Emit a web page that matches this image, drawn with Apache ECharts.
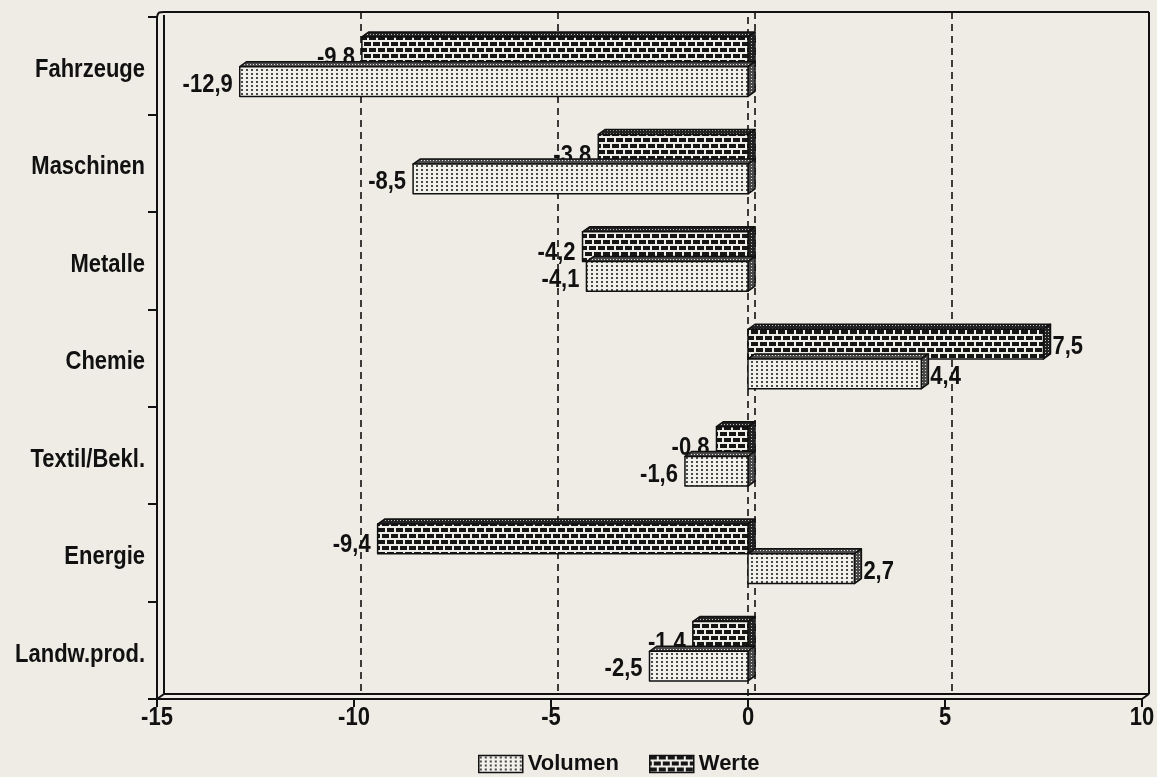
<!DOCTYPE html>
<html>
<head>
<meta charset="utf-8">
<script src="https://cdn.jsdelivr.net/npm/echarts@6/dist/echarts.min.js"></script>
<style>
  html, body { margin: 0; padding: 0; background: #efece5; }
  #chart { width: 1157px; height: 777px; }
</style>
</head>
<body>
<div id="chart"></div>
<script>
// Veränderung gegenüber Vorjahr in %, je Warengruppe
const categories = ['Fahrzeuge', 'Maschinen', 'Metalle', 'Chemie', 'Textil/Bekl.', 'Energie', 'Landw.prod.'];
const werte   = [-9.8, -3.8, -4.2, 7.5, -0.8, -9.4, -1.4];
const volumen = [-12.9, -8.5, -4.1, 4.4, -1.6, 2.7, -2.5];
const xTicks = [-15, -10, -5, 0, 5, 10];
const gridValues = [-10, -5, 0, 5];

const FONT = "'Liberation Sans', Arial, Helvetica, sans-serif";
const FS = 22;
const STRETCH = 1.2;    // tall lettering
const DX = 7, DY = 5;   // depth of the 3D box

function makePattern(w, h, draw) {
  const c = document.createElement('canvas');
  c.width = w; c.height = h;
  draw(c.getContext('2d'));
  return { image: c, repeat: 'repeat' };
}
// light dotted fill
const dotFront = makePattern(5, 4, g => {
  g.fillStyle = '#f3f1ec'; g.fillRect(0, 0, 5, 4);
  g.fillStyle = '#4a4a4a'; g.fillRect(1, 1, 2, 2);
});
// dark bricks with light mortar
const brickFront = makePattern(18, 12, g => {
  g.fillStyle = '#efede7'; g.fillRect(0, 0, 18, 12);
  g.fillStyle = '#161616';
  g.fillRect(0, 0, 7, 4); g.fillRect(9, 0, 7, 4);
  g.fillRect(0, 6, 2, 4); g.fillRect(4, 6, 7, 4); g.fillRect(13, 6, 5, 4);
});
// dense dotted shading for top and side faces
const shadeDark = makePattern(3, 3, g => {
  g.fillStyle = '#222'; g.fillRect(0, 0, 3, 3);
  g.fillStyle = '#c4c1ba'; g.fillRect(1, 1, 1, 1);
});
const shadeMid = makePattern(3, 3, g => {
  g.fillStyle = '#4a4a4a'; g.fillRect(0, 0, 3, 3);
  g.fillStyle = '#e6e3dc'; g.fillRect(1, 1, 1, 1);
});

const fmt = v => v.toFixed(1).replace('.', ',');

// text element drawn a little taller than wide
function tallText(text, x, y, align) {
  return {
    type: 'text', x, y, scaleY: STRETCH, originX: 0, originY: 0,
    style: { text, x: 0, y: 0, align, verticalAlign: 'middle', fill: '#111',
             font: 'bold ' + FS + 'px ' + FONT }
  };
}

function barRenderer(upper, frontFill, shadeFill) {
  return function (params, api) {
    const v = api.value(0), ci = api.value(1);
    const base = api.coord([0, ci]);
    const end = api.coord([v, ci]);
    const band = api.size([0, 1])[1];
    const h = band * 0.305;
    const cy = base[1] + band * 0.01;
    const top = upper ? cy - h : cy;
    const bot = top + h;
    const x1 = Math.min(base[0], end[0]);
    const x2 = Math.max(base[0], end[0]);
    const stroke = { stroke: '#111', lineWidth: 1.5, lineJoin: 'round' };
    const lx = v < 0 ? x1 - 7 : x2 + DX + 2;
    const labelDy = (upper && v < 0) ? 6 : 3;
    return {
      type: 'group',
      children: [
        { type: 'polygon', shape: { points: [[x1, top], [x2, top], [x2 + DX, top - DY], [x1 + DX, top - DY]] },
          style: Object.assign({ fill: shadeFill }, stroke) },
        { type: 'polygon', shape: { points: [[x2, top], [x2 + DX, top - DY], [x2 + DX, bot - DY], [x2, bot]] },
          style: Object.assign({ fill: shadeFill }, stroke) },
        { type: 'rect', shape: { x: x1, y: top, width: x2 - x1, height: h },
          style: Object.assign({ fill: frontFill }, stroke) },
        tallText(fmt(v), lx, top + h / 2 + labelDy, v < 0 ? 'right' : 'left')
      ]
    };
  };
}

function frameRenderer(params, api) {
  const r = params.coordSys;
  const L = r.x, T = r.y, R = r.x + r.width, B = r.y + r.height;
  const ls = { stroke: '#111', lineWidth: 2, fill: null };
  const line = (x1, y1, x2, y2) => ({ type: 'line', shape: { x1, y1, x2, y2 }, style: ls });
  const children = [
    line(L + DX, T - DY, R + DX, T - DY),
    line(R + DX, T - DY, R + DX, B - DY),
    line(L + DX, B - DY, R + DX, B - DY),
    line(L + DX, T - DY + 3, L + DX, B - DY),
    { type: 'bezierCurve', shape: { x1: L, y1: T, x2: L + DX, y2: T - DY, cpx1: L + 1, cpy1: T - DY, cpx2: L + 2, cpy2: T - DY },
      style: ls },
    line(R, B, R + DX, B - DY),
    line(L, B, L + DX, B - DY)
  ];
  // category names along the left axis
  categories.forEach((name, i) => {
    const y = api.coord([0, i])[1];
    children.push(tallText(name, L - 12, y + 4, 'right'));
  });
  // value labels under the bottom axis
  xTicks.forEach(v => {
    const x = api.coord([v, 0])[0];
    children.push(tallText(String(v), x, B + 19, 'center'));
  });
  return { type: 'group', silent: true, children };
}

function gridRenderer(params, api) {
  const r = params.coordSys;
  const v = api.value(0);
  const x = api.coord([v, 0])[0];
  const ls = { stroke: '#111', lineWidth: 1.6, lineDash: [7, 5], fill: null };
  const children = [
    { type: 'line', shape: { x1: x + DX, y1: r.y - DY, x2: x + DX, y2: r.y + r.height - DY }, style: ls }
  ];
  if (v === 0) {
    children.push({ type: 'line', shape: { x1: x, y1: r.y, x2: x, y2: r.y + r.height }, style: ls });
  }
  return { type: 'group', silent: true, children };
}

const chart = echarts.init(document.getElementById('chart'), null, { renderer: 'canvas' });
chart.setOption({
  backgroundColor: '#efece5',
  animation: false,
  grid: { left: 157, right: 15, top: 17, bottom: 78, containLabel: false, outerBoundsMode: 'none' },
  xAxis: {
    type: 'value', min: -15, max: 10, interval: 5,
    axisLine: { show: true, onZero: false, lineStyle: { color: '#111', width: 2 } },
    axisTick: { show: true, length: 8, lineStyle: { color: '#111', width: 2 } },
    axisLabel: { show: false },
    splitLine: { show: false }
  },
  yAxis: {
    type: 'category', data: categories, inverse: true,
    axisLine: { show: true, onZero: false, lineStyle: { color: '#111', width: 2 } },
    axisTick: { show: true, length: 9, lineStyle: { color: '#111', width: 2 } },
    axisLabel: { show: false },
    splitLine: { show: false }
  },
  legend: {
    data: ['Volumen', 'Werte'],
    left: 473, top: 748,
    icon: 'rect', itemWidth: 44, itemHeight: 17, itemGap: 30,
    textStyle: { color: '#111', fontFamily: FONT, fontWeight: 'bold', fontSize: FS },
    itemStyle: { borderColor: '#111', borderWidth: 1.5 }
  },
  series: [
    { name: 'frame', type: 'custom', renderItem: frameRenderer, data: [[0, 0]], z: 1, silent: true },
    { name: 'grid', type: 'custom', renderItem: gridRenderer, data: gridValues.map(v => [v, 0]), z: 2, silent: true },
    { name: 'Werte', type: 'custom', renderItem: barRenderer(true, brickFront, shadeDark),
      itemStyle: { color: brickFront }, encode: { x: 0, y: 1 },
      data: werte.map((v, i) => [v, i]), z: 3 },
    { name: 'Volumen', type: 'custom', renderItem: barRenderer(false, dotFront, shadeMid),
      itemStyle: { color: dotFront }, encode: { x: 0, y: 1 },
      data: volumen.map((v, i) => [v, i]), z: 4 }
  ]
});
</script>
</body>
</html>
